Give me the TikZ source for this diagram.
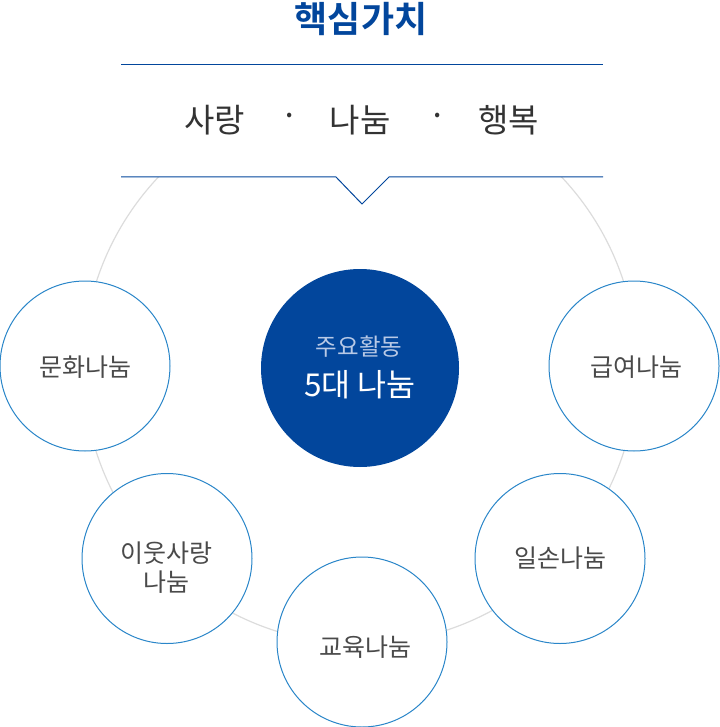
\documentclass[tikz,border=0pt]{standalone}
\usepackage{fontspec}
\newfontfamily\kr{Noto Sans CJK KR}
\newfontfamily\krb{Noto Sans CJK KR Bold}
\definecolor{navy}{HTML}{02469C}
\definecolor{ringblue}{HTML}{2A86C9}
\definecolor{ringgray}{HTML}{DCDCDC}
\definecolor{txtgray}{HTML}{4A4A4A}
\definecolor{paleblue}{HTML}{B8C9E6}
\tikzset{
  small/.style={circle, draw=ringblue, line width=1pt, fill=white, minimum size=170pt, inner sep=0pt},
  lbl/.style={font=\kr\fontsize{25}{29}\selectfont, text=txtgray, align=center, inner sep=0pt},
  value/.style={font=\kr\fontsize{33}{36}\selectfont, text=black!80, inner sep=0pt},
}
\begin{document}
\begin{tikzpicture}[x=1pt,y=-1pt]
\useasboundingbox (0,0) rectangle (719,727);
% big gray ring
\node[circle, draw=ringgray, line width=1.2pt, minimum size=554pt, inner sep=0pt] (ring) at (360,367) {};
% white cover of top part
\fill[white] (100,40) rectangle (620,177);
% title
\node[font=\krb\fontsize{36}{40}\selectfont, text=navy, inner sep=0pt] (title) at (361,19) {핵심가치};
% lines
\coordinate (tl) at (121,64.5);
\coordinate (tr) at (603,64.5);
\draw[navy, line width=1pt] (tl) -- (tr);
\coordinate (bl) at (121,177);
\coordinate (br) at (603,177);
\coordinate (n1) at (336,177);
\coordinate (n2) at (362,204);
\coordinate (n3) at (389,177);
\draw[navy, line width=1pt] (bl) -- (n1) -- (n2) -- (n3) -- (br);
% values
\node[value] (v1) at (214.5,120.5) {사랑};
\node[value] (d1) at (290,120.5) {·};
\node[value] (v2) at (360,120.5) {나눔};
\node[value] (d2) at (438,120.5) {·};
\node[value] (v3) at (508.5,120.5) {행복};
% centre
\node[circle, fill=navy, minimum size=198pt, inner sep=0pt] (core) at (360,368) {};
\node[font=\kr\fontsize{23.5}{26}\selectfont, text=paleblue, inner sep=0pt] (core1) at (359,347) {주요활동};
\node[font=\kr\fontsize{31.5}{34}\selectfont, text=white, inner sep=0pt] (core2) at (360,385) {5대 나눔};
% small circles
\node[small] (c1) at (85,366) {};
\node[small] (c2) at (634,366) {};
\node[small] (c3) at (167,558.5) {};
\node[small] (c4) at (362,642) {};
\node[small] (c5) at (560,558.5) {};
\node[lbl] (t1) at (85.5,367) {문화나눔};
\node[lbl] (t2) at (636,367) {급여나눔};
\node[lbl] (t3) at (166,568) {이웃사랑\\나눔};
\node[lbl] (t4) at (365,647) {교육나눔};
\node[lbl] (t5) at (560,558) {일손나눔};
\end{tikzpicture}
\end{document}
